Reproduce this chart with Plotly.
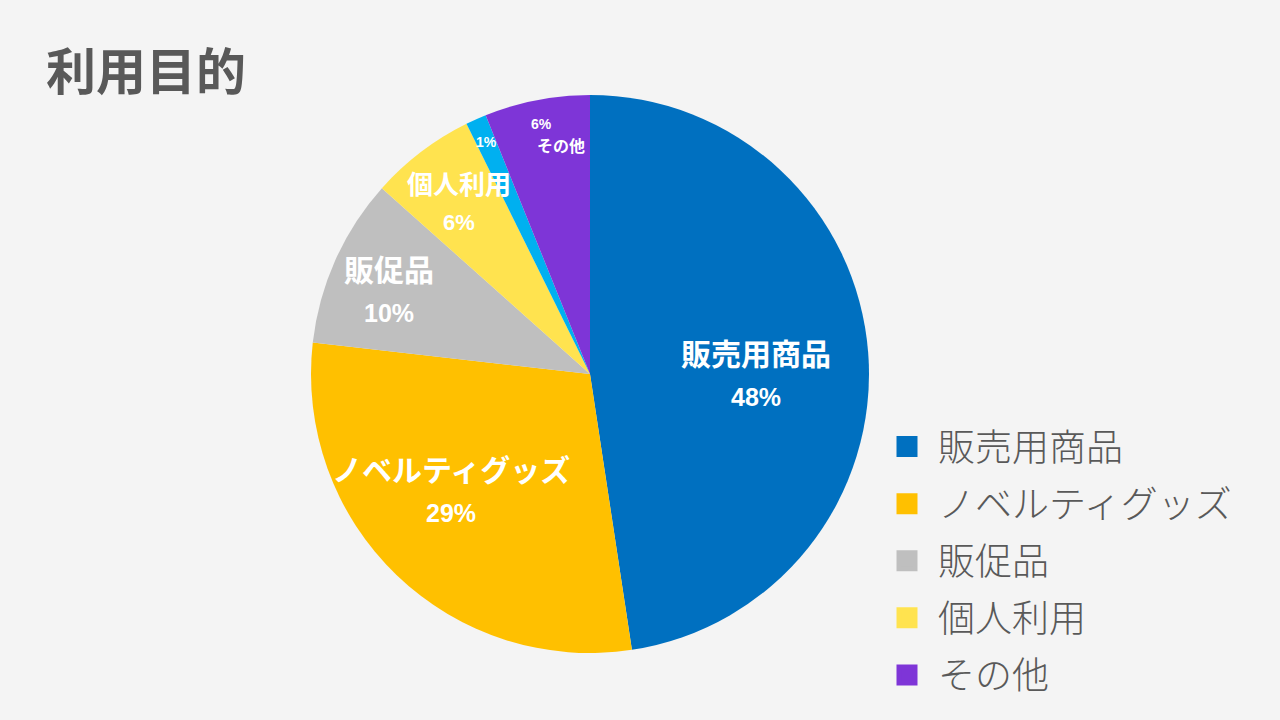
import numpy as np
import plotly.graph_objects as go

# ---- data ----
slice_labels = ["販売用商品", "ノベルティグッズ", "販促品", "個人利用", "(未分類)", "その他"]
slice_values = [47.6, 29.2, 9.8, 6.1, 1.2, 6.1]
pct_text = ["48%", "29%", "10%", "6%", "1%", "6%"]
name_text = ["販売用商品", "ノベルティグッズ", "販促品", "個人利用", "", "その他"]
slice_colors = ["#0070C0", "#FFC000", "#BFBFBF", "#FFE34F", "#00B0F0", "#7E35D7"]
legend_names = ["販売用商品", "ノベルティグッズ", "販促品", "個人利用", "その他"]
legend_colors = ["#0070C0", "#FFC000", "#BFBFBF", "#FFE34F", "#7E35D7"]
title_text = "利用目的"

# ---- style ----
W, H = 1280, 720
BG = "#F4F4F4"
TXT = "#595959"
cx_px, cy_px, R = 590, 374, 279
dom_x = [(cx_px - R) / W, (cx_px + R) / W]
dom_y = [1 - (cy_px + R) / H, 1 - (cy_px - R) / H]
rfrac = [0.595, 0.65, 0.78, 0.773, 0.91, 0.871]
dtheta_deg = [4.6, 6.0, -1.6, 0.0, 0.0, 1.8]
name_sizes = [30, 30, 30, 26, 0, 16]
pct_sizes = [25, 25, 25, 22, 14, 14]
half_gap = [22.5, 22.5, 22.5, 20, 0, 0]

fig = go.Figure()

# legend proxies (scatter, no data)
for i, (n, c) in enumerate(zip(legend_names, legend_colors)):
    fig.add_trace(go.Scatter(
        x=[None], y=[None], mode="markers", name=n, legendgroup=f"g{i}",
        marker=dict(symbol="square", size=16, color=c, line=dict(color=c, width=5)),
        showlegend=True, hoverinfo="skip"))

fig.add_trace(go.Pie(
    labels=slice_labels, values=slice_values, sort=False, direction="clockwise",
    rotation=0, marker=dict(colors=slice_colors, line=dict(width=0)),
    textinfo="none", domain=dict(x=dom_x, y=dom_y), showlegend=False,
    hoverinfo="label+percent"))

# labels placed along each slice's mid-angle (derived from values)
vals = np.array(slice_values, dtype=float)
cum = np.concatenate([[0], np.cumsum(vals)[:-1]])
mid = (cum + vals / 2) / vals.sum() * 2 * np.pi + np.radians(dtheta_deg)
annotations = []


def ann(x, y, text, size, family, xs=0, ys=0, color="white"):
    return dict(x=x, y=y, text=text, showarrow=False, xref="paper", yref="paper",
                xanchor="center", yanchor="middle", xshift=xs, yshift=ys,
                font=dict(family=family, size=size, color=color, weight="bold"))


for i in range(len(vals)):
    px = cx_px + rfrac[i] * R * np.sin(mid[i])
    py = cy_px - rfrac[i] * R * np.cos(mid[i])
    x, y = px / W, 1 - py / H
    if i == 4:
        annotations.append(ann(x, y, pct_text[i], pct_sizes[i], "Liberation Sans"))
    elif i == 5:
        annotations.append(ann(x, y, pct_text[i], pct_sizes[i], "Liberation Sans", xs=-10, ys=10))
        annotations.append(ann(x, y, name_text[i], name_sizes[i], "Noto Sans CJK JP", xs=10, ys=-11))
    else:
        annotations.append(ann(x, y, name_text[i], name_sizes[i], "Noto Sans CJK JP", ys=half_gap[i]))
        annotations.append(ann(x, y, pct_text[i], pct_sizes[i], "Liberation Sans", ys=-half_gap[i]))

annotations.append(dict(x=44 / W, y=1 - 68 / H, xanchor="left", yanchor="middle", text=title_text,
                        showarrow=False, xref="paper", yref="paper",
                        font=dict(family="Noto Sans CJK JP", size=50, color=TXT, weight="bold")))

fig.update_layout(
    width=W, height=H, paper_bgcolor=BG, plot_bgcolor=BG,
    margin=dict(l=0, r=0, t=0, b=0),
    xaxis=dict(visible=False), yaxis=dict(visible=False),
    annotations=annotations,
    legend=dict(x=876 / W, y=1 - 416 / H, xanchor="left", yanchor="top",
                bgcolor="rgba(0,0,0,0)", tracegroupgap=6, itemwidth=52,
                font=dict(family="Noto Sans CJK JP", size=37, color=TXT, weight=300)),
)

fig.write_html("out.html")
